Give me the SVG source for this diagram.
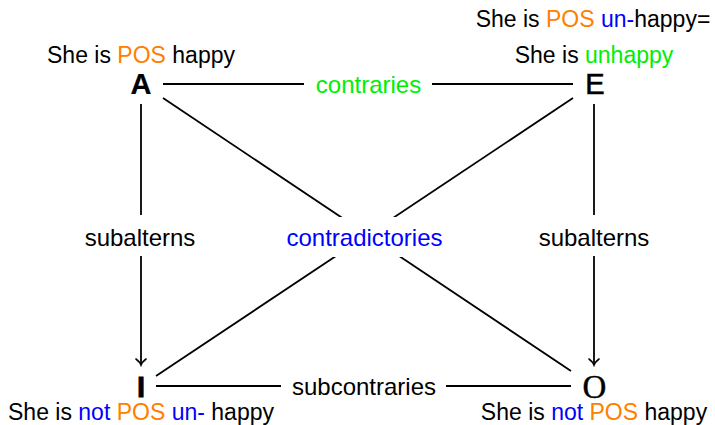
<svg xmlns="http://www.w3.org/2000/svg" width="715" height="425" viewBox="0 0 715 425">
<style>
.nl{font-family:"Liberation Sans",Arial,sans-serif;font-size:23px;fill:#000;text-anchor:middle}
.el{font-family:"Liberation Sans",Arial,sans-serif;font-size:24px;fill:#000;text-anchor:middle}
.big{font-family:"Liberation Sans",Arial,sans-serif;font-size:29px;fill:#000;stroke:#000;stroke-width:0.6;text-anchor:middle}
.bigO{font-family:"Liberation Serif","Times New Roman",serif;font-size:33px;fill:#000;stroke:#000;stroke-width:0.4;text-anchor:middle}
.or{fill:#ff8000}.bl{fill:#0000ff}.gr{fill:#00ee00}
.ln{stroke:#000;stroke-width:1.8;fill:none}
</style>
<defs>
<marker id="arr" markerWidth="12" markerHeight="12" refX="10" refY="6" orient="auto" markerUnits="userSpaceOnUse">
<path d="M4,1 Q7,5 10,6 Q7,7 4,11" fill="none" stroke="#000" stroke-width="1.6" stroke-linecap="round"/>
</marker>
</defs>
<rect width="715" height="425" fill="#fff"/>
<g id="connectors">
<line class="ln" x1="163" y1="84" x2="304" y2="84"/>
<line class="ln" x1="432" y1="84" x2="573" y2="84"/>
<text class="el gr" x="368.5" y="93">contraries</text>
<line class="ln" x1="156" y1="386" x2="281" y2="386"/>
<line class="ln" x1="446" y1="386" x2="571" y2="386"/>
<text class="el" x="364" y="395">subcontraries</text>
<line class="ln" x1="141" y1="104" x2="141" y2="215"/>
<line class="ln" x1="141" y1="256" x2="141" y2="365" marker-end="url(#arr)"/>
<text class="el" x="140" y="246">subalterns</text>
<line class="ln" x1="594" y1="104" x2="594" y2="215"/>
<line class="ln" x1="594" y1="256" x2="594" y2="365" marker-end="url(#arr)"/>
<text class="el" x="594" y="246">subalterns</text>
<line class="ln" x1="163" y1="98" x2="571" y2="371"/>
<line class="ln" x1="573" y1="98" x2="156" y2="376"/>
<rect x="278" y="217" width="174" height="40" fill="#fff"/>
<text class="el bl" x="364.5" y="246">contradictories</text>
</g>
<g id="A">
<text class="big" x="141" y="94" style="font-weight:bold;stroke-width:0.2">A</text>
<text class="nl" x="141" y="63">She is <tspan class="or">POS</tspan> happy</text>
</g>
<g id="E">
<text class="big" x="595" y="94">E</text>
<text class="nl" x="593" y="27">She is <tspan class="or">POS</tspan> <tspan class="bl">un-</tspan>happy=</text>
<text class="nl" x="594" y="63">She is <tspan class="gr">unhappy</tspan></text>
</g>
<g id="I">
<text class="big" x="141" y="397" style="font-weight:bold;stroke-width:0.8">I</text>
<text class="nl" x="141" y="420">She is <tspan class="bl">not</tspan> <tspan class="or">POS</tspan> <tspan class="bl">un-</tspan> happy</text>
</g>
<g id="O">
<text class="bigO" x="594.5" y="398">O</text>
<text class="nl" x="594" y="420">She is <tspan class="bl">not</tspan> <tspan class="or">POS</tspan> happy</text>
</g>
</svg>
